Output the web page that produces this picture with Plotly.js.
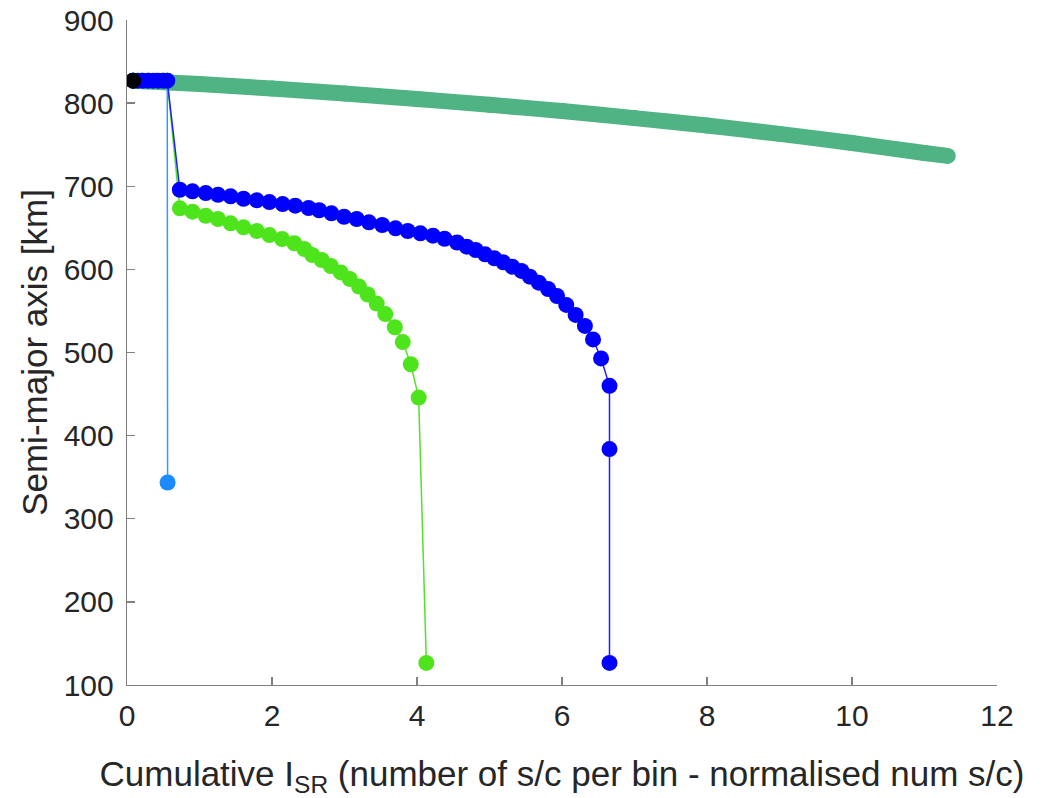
<!DOCTYPE html>
<html>
<head>
<meta charset="utf-8">
<script src="https://cdn.plot.ly/plotly-3.0.1.min.js"></script>
<style>html,body{margin:0;padding:0;background:#fff;}#chart{width:1056px;height:798px;}</style>
</head>
<body>
<div id="chart"></div>
<script>
// Teal (long, slowly decaying) series
const tealX = [0.084, 1, 2, 3, 4, 5, 6, 7, 8, 9, 10, 11, 11.32];
const tealY = [827, 823, 817.5, 811.5, 805, 798, 790.5, 782, 773, 763, 752, 740, 736.5];

// Light-blue series
const lblueX = [0.084, 0.2, 0.3, 0.4, 0.5, 0.555, 0.56];
const lblueY = [827, 827, 827, 827, 827, 827, 343.6];

// Bright green series
const greenX = [0.084, 0.2, 0.3, 0.4, 0.5, 0.555,
  0.729, 0.903, 1.086, 1.255, 1.429, 1.607, 1.790, 1.964, 2.139, 2.307,
  2.445, 2.555, 2.685, 2.811, 2.949, 3.072, 3.200, 3.321, 3.444, 3.563,
  3.694, 3.804, 3.914, 4.023, 4.129];
const greenY = [827, 827, 827, 827, 827, 827,
  673.4, 669.4, 664.5, 660.6, 655.4, 650.6, 646.2, 641.3, 636.5, 631.4,
  624.5, 617.3, 611.3, 604.1, 596.3, 588.5, 579.4, 569.8, 558.8, 546.2,
  530.4, 512.5, 485.9, 445.8, 126.6];

// Blue series
const blueX = [0.084, 0.15, 0.22, 0.29, 0.36, 0.43, 0.50, 0.555,
  0.729, 0.903, 1.086, 1.255, 1.429, 1.607, 1.790, 1.964, 2.147, 2.321,
  2.504, 2.651, 2.820, 2.994, 3.168, 3.337, 3.520, 3.704, 3.872, 4.047,
  4.220, 4.380, 4.553, 4.686, 4.810, 4.939, 5.067, 5.190, 5.314, 5.441,
  5.557, 5.680, 5.808, 5.931, 6.059, 6.188, 6.316, 6.428, 6.539, 6.655,
  6.655, 6.655];
const blueY = [827, 827, 827, 827, 827, 827, 827, 827,
  695.8, 693.9, 691.8, 689.8, 687.9, 685.0, 683.1, 681.0, 678.6, 676.6,
  673.8, 671.1, 667.4, 663.3, 660.6, 656.6, 653.4, 649.4, 646.2, 643.4,
  640.5, 636.8, 632.3, 627.3, 623.3, 618.1, 613.3, 608.5, 603.2, 598.1,
  591.2, 584.0, 576.4, 568.0, 557.2, 545.2, 532.0, 515.7, 492.9, 459.9,
  383.8, 126.6];

// Black starting point
const blackX = [0.084];
const blackY = [827];

const xTicks = [0, 2, 4, 6, 8, 10, 12];
const yTicks = [100, 200, 300, 400, 500, 600, 700, 800, 900];

const MS = 16;
const traces = [
  {x: tealX, y: tealY, mode: 'lines+markers', line: {color: '#4fb383', width: 16, shape: 'spline', smoothing: 0.6},
   marker: {color: '#4fb383', size: MS}, showlegend: false},
  {x: lblueX, y: lblueY, mode: 'lines+markers', line: {color: '#3399ff', width: 1.5},
   marker: {color: '#1a8cff', size: MS}, showlegend: false},
  {x: greenX, y: greenY, mode: 'lines+markers', line: {color: '#55e02a', width: 1.5},
   marker: {color: '#4ee41c', size: MS}, showlegend: false},
  {x: blueX, y: blueY, mode: 'lines+markers', line: {color: '#2020ff', width: 1.5},
   marker: {color: '#0000ff', size: MS}, showlegend: false},
  {x: blackX, y: blackY, mode: 'markers',
   marker: {color: '#000000', size: MS}, showlegend: false}
];

const FAM = 'Liberation Sans, Arial, sans-serif';
const tickFont = {family: FAM, size: 30, color: '#262626'};
const titleFont = {family: FAM, size: 35, color: '#262626'};
const layout = {
  width: 1056, height: 798,
  paper_bgcolor: '#ffffff', plot_bgcolor: '#ffffff',
  margin: {l: 127, r: 59, t: 20, b: 113},
  xaxis: {
    range: [0, 12], tickvals: xTicks, ticktext: xTicks.map(String),
    showgrid: false, zeroline: false, showline: true, linecolor: '#808080', linewidth: 1.3,
    ticks: 'inside', ticklen: 8, tickcolor: '#808080', tickwidth: 1.3,
    tickfont: tickFont, ticklabelstandoff: 4, automargin: false,
    title: {text: 'Cumulative I<sub>SR</sub> (number of s/c per bin - normalised num s/c)',
            font: titleFont}
  },
  yaxis: {
    range: [100, 900], tickvals: yTicks, ticktext: yTicks.map(String),
    showgrid: false, zeroline: false, showline: true, linecolor: '#808080', linewidth: 1.3,
    ticks: 'inside', ticklen: 8, tickcolor: '#808080', tickwidth: 1.3,
    tickfont: tickFont, ticklabelstandoff: 6, automargin: false,
    title: {text: 'Semi-major axis [km]', font: titleFont}
  },
  font: {family: FAM, color: '#262626'}
};

Plotly.newPlot('chart', traces, layout, {displayModeBar: false, staticPlot: true});
</script>
</body>
</html>
